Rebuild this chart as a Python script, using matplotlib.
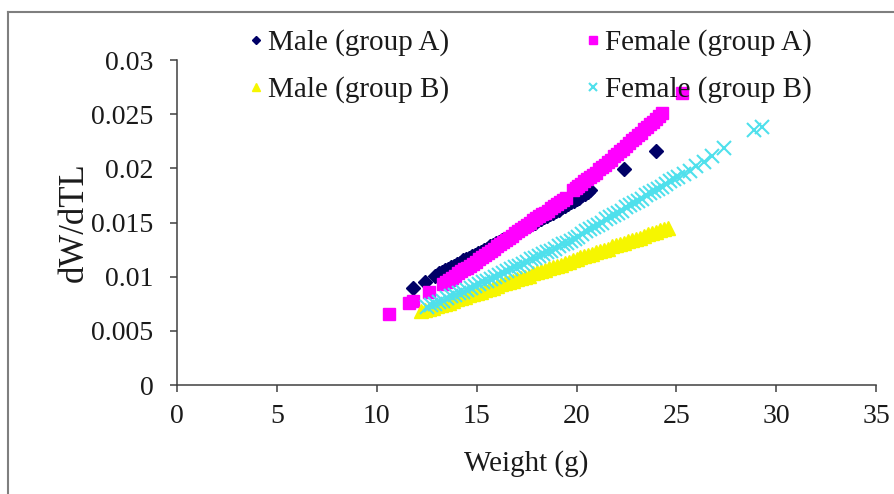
import matplotlib
matplotlib.use('Agg')
import matplotlib.pyplot as plt
from matplotlib.lines import Line2D

# (weight, dW/dTL) readings taken from the reference chart
male_a = [(11.8, 0.0090), (12.4, 0.0095), (12.9, 0.0101), (13.1, 0.0103), (13.25, 0.0104),
          (13.4, 0.0106), (13.55, 0.0107), (13.7, 0.0109), (13.85, 0.0110), (14.0, 0.0112),
          (14.15, 0.0113), (14.3, 0.0115), (14.45, 0.0116), (14.6, 0.0117), (14.75, 0.0119),
          (14.9, 0.0120), (15.05, 0.0122), (15.2, 0.0123), (15.35, 0.0125), (15.5, 0.0126),
          (15.65, 0.0128), (15.8, 0.0129), (15.95, 0.0131), (16.1, 0.0132), (16.25, 0.0134),
          (16.4, 0.0135), (16.55, 0.0137), (16.7, 0.0138), (16.85, 0.0140), (17.0, 0.0141),
          (17.15, 0.0143), (17.3, 0.0144), (17.45, 0.0146), (17.6, 0.0147), (17.75, 0.0149),
          (17.9, 0.0150), (18.05, 0.0152), (18.2, 0.0153), (18.35, 0.0155), (18.5, 0.0156),
          (18.65, 0.0158), (18.8, 0.0159), (18.95, 0.0161), (19.1, 0.0162), (19.25, 0.0164),
          (19.4, 0.0165), (19.55, 0.0167), (19.7, 0.0169), (19.85, 0.0170), (20.0, 0.0172),
          (20.15, 0.0173), (20.3, 0.0175), (20.45, 0.0176), (20.6, 0.0178), (20.7, 0.0180),
          (22.4, 0.0199), (24.0, 0.0216)]

female_a = [(10.6, 0.0066), (11.6, 0.0076), (11.8, 0.0078), (12.6, 0.0086), (13.3, 0.0093),
            (13.45, 0.0095), (13.6, 0.0097), (13.75, 0.0099), (13.9, 0.0101), (14.05, 0.0103),
            (14.2, 0.0105), (14.35, 0.0107), (14.5, 0.0108), (14.65, 0.0110), (14.8, 0.0112),
            (14.95, 0.0114), (15.1, 0.0116), (15.25, 0.0118), (15.4, 0.0120), (15.55, 0.0122),
            (15.7, 0.0124), (15.85, 0.0126), (16.0, 0.0128), (16.15, 0.0130), (16.3, 0.0132),
            (16.45, 0.0134), (16.6, 0.0136), (16.75, 0.0138), (16.9, 0.0140), (17.05, 0.0142),
            (17.2, 0.0144), (17.35, 0.0146), (17.5, 0.0148), (17.65, 0.0150), (17.8, 0.0152),
            (17.95, 0.0154), (18.1, 0.0156), (18.25, 0.0158), (18.4, 0.0159), (18.55, 0.0161),
            (18.7, 0.0163), (18.85, 0.0165), (19.0, 0.0167), (19.15, 0.0169), (19.3, 0.0171),
            (19.45, 0.0173), (19.8, 0.0180), (19.95, 0.0182), (20.1, 0.0184), (20.25, 0.0186),
            (20.4, 0.0188), (20.55, 0.0190), (20.7, 0.0192), (20.85, 0.0194), (21.0, 0.0196),
            (21.15, 0.0199), (21.3, 0.0201), (21.45, 0.0203), (21.6, 0.0206), (21.75, 0.0208),
            (21.9, 0.0211), (22.05, 0.0213), (22.2, 0.0216), (22.35, 0.0218), (22.5, 0.0221),
            (22.65, 0.0223), (22.8, 0.0226), (22.95, 0.0228), (23.1, 0.0231), (23.25, 0.0233),
            (23.4, 0.0236), (23.55, 0.0238), (23.7, 0.0241), (23.85, 0.0243), (24.0, 0.0246),
            (24.15, 0.0248), (24.3, 0.0251), (25.3, 0.0270)]

male_b = [(12.2, 0.0068), (12.4, 0.0069), (12.6, 0.0070), (12.8, 0.0071), (13.0, 0.0073),
          (13.2, 0.0074), (13.4, 0.0075), (13.6, 0.0076), (13.8, 0.0078), (14.0, 0.0079),
          (14.2, 0.0080), (14.4, 0.0081), (14.6, 0.0083), (14.8, 0.0084), (15.0, 0.0085),
          (15.2, 0.0086), (15.4, 0.0088), (15.6, 0.0089), (15.8, 0.0090), (16.0, 0.0091),
          (16.2, 0.0093), (16.4, 0.0094), (16.6, 0.0095), (16.8, 0.0096), (17.0, 0.0098),
          (17.2, 0.0099), (17.4, 0.0100), (17.6, 0.0101), (17.8, 0.0103), (18.0, 0.0104),
          (18.2, 0.0105), (18.4, 0.0106), (18.6, 0.0108), (18.8, 0.0109), (19.0, 0.0110),
          (19.2, 0.0111), (19.4, 0.0113), (19.6, 0.0114), (19.8, 0.0115), (20.0, 0.0116),
          (20.2, 0.0118), (20.4, 0.0119), (20.6, 0.0120), (20.8, 0.0121), (21.0, 0.0123),
          (21.2, 0.0124), (21.4, 0.0125), (21.6, 0.0126), (21.8, 0.0128), (22.0, 0.0129),
          (22.2, 0.0130), (22.4, 0.0131), (22.6, 0.0133), (22.8, 0.0134), (23.0, 0.0135),
          (23.2, 0.0136), (23.4, 0.0138), (23.6, 0.0139), (23.8, 0.0140), (24.0, 0.0141),
          (24.2, 0.0143), (24.4, 0.0144), (24.6, 0.0145)]

female_b = [(12.5, 0.0072), (12.7, 0.0074), (12.9, 0.0075), (13.1, 0.0077), (13.3, 0.0078),
            (13.5, 0.0080), (13.7, 0.0082), (13.9, 0.0083), (14.1, 0.0085), (14.3, 0.0086),
            (14.5, 0.0088), (14.7, 0.0090), (14.9, 0.0091), (15.1, 0.0093), (15.3, 0.0095),
            (15.5, 0.0096), (15.7, 0.0098), (15.9, 0.0100), (16.1, 0.0102), (16.3, 0.0103),
            (16.5, 0.0105), (16.7, 0.0107), (16.9, 0.0109), (17.1, 0.0110), (17.3, 0.0112),
            (17.5, 0.0114), (17.7, 0.0116), (17.9, 0.0117), (18.1, 0.0119), (18.3, 0.0121),
            (18.5, 0.0123), (18.7, 0.0124), (18.9, 0.0126), (19.1, 0.0128), (19.3, 0.0130),
            (19.5, 0.0131), (19.7, 0.0133), (19.9, 0.0135), (20.1, 0.0137), (20.3, 0.0139),
            (20.5, 0.0142), (20.7, 0.0144), (20.9, 0.0146), (21.1, 0.0148), (21.3, 0.0150),
            (21.5, 0.0153), (21.7, 0.0155), (21.9, 0.0157), (22.1, 0.0159), (22.3, 0.0161),
            (22.5, 0.0164), (22.7, 0.0166), (22.9, 0.0168), (23.1, 0.0170), (23.3, 0.0172),
            (23.5, 0.0175), (23.7, 0.0177), (23.9, 0.0179), (24.1, 0.0181), (24.3, 0.0183),
            (24.5, 0.0186), (24.7, 0.0188), (24.9, 0.0190), (25.1, 0.0192), (25.4, 0.0195),
            (25.7, 0.0198), (26.0, 0.0202), (26.4, 0.0206), (26.8, 0.0211), (27.4, 0.0219),
            (28.9, 0.0235), (29.3, 0.0238)]

x_ticks = [0, 5, 10, 15, 20, 25, 30, 35]
y_ticks = [0, 0.005, 0.01, 0.015, 0.02, 0.025, 0.03]
y_tick_labels = ['0', '0.005', '0.01', '0.015', '0.02', '0.025', '0.03']

plt.rcParams['font.family'] = ['Liberation Serif', 'DejaVu Serif']

fig = plt.figure(figsize=(8.94, 4.94), dpi=100)
ax = fig.add_axes([0.198, 0.2206, 0.782, 0.6579])

# outer frame (left and top edges are visible in the reference)
fig.add_artist(Line2D([0.009, 0.009], [0.0, 0.976], color='#7f7f7f', lw=1.5,
                      transform=fig.transFigure))
fig.add_artist(Line2D([0.009, 1.0], [0.976, 0.976], color='#7f7f7f', lw=1.5,
                      transform=fig.transFigure))


def xy(pairs):
    xs, ys = zip(*pairs)
    return list(xs), list(ys)


mx, my = xy(male_a)
fx, fy = xy(female_a)
mbx, mby = xy(male_b)
fbx, fby = xy(female_b)

ax.plot(mx, my, linestyle='none', marker='D', ms=7.5, color='#000066',
        mec='#000066', label='Male (group A)', zorder=2)
ax.plot(fx, fy, linestyle='none', marker='s', ms=9, color='#ff00ff',
        mec='#ff00ff', label='Female (group A)', zorder=3)
ax.plot(mbx, mby, linestyle='none', marker='^', ms=10.5, color='#f6f600',
        mec='#f6f600', label='Male (group B)', zorder=4)
ax.plot(fbx, fby, linestyle='none', marker='x', ms=9.5, mew=1.5,
        color='#4fe0ec', label='Female (group B)', zorder=5)

ax.set_xlim(0, 35)
ax.set_ylim(0, 0.03)
ax.set_xticks(x_ticks)
ax.set_xticklabels([str(t) for t in x_ticks])
ax.set_yticks(y_ticks)
ax.set_yticklabels(y_tick_labels)

for side in ['top', 'right']:
    ax.spines[side].set_visible(False)
for side in ['left', 'bottom']:
    ax.spines[side].set_color('#404040')
    ax.spines[side].set_linewidth(1.1)

ax.tick_params(axis='both', direction='out', length=5, width=1.1, color='#404040',
               labelsize=20, labelcolor='#1a1a1a')
ax.tick_params(axis='y', pad=12)
ax.tick_params(axis='x', pad=9)

ax.set_xlabel('Weight (g)', fontsize=21, color='#1a1a1a', labelpad=15)
ax.set_ylabel('dW/dTL', fontsize=25, color='#1a1a1a', labelpad=0)

h, l = ax.get_legend_handles_labels()
order = [0, 2, 1, 3]
leg = ax.legend([h[i] for i in order], [l[i] for i in order], ncol=2,
                loc='upper left', bbox_to_anchor=(0.087, 1.13), frameon=False,
                fontsize=21, markerscale=0.6, handlelength=0.42, handletextpad=0.2,
                columnspacing=4.75, labelspacing=0.68, borderaxespad=0)
for t in leg.get_texts():
    t.set_color('#1a1a1a')

fig.savefig('out.png', dpi=100)
